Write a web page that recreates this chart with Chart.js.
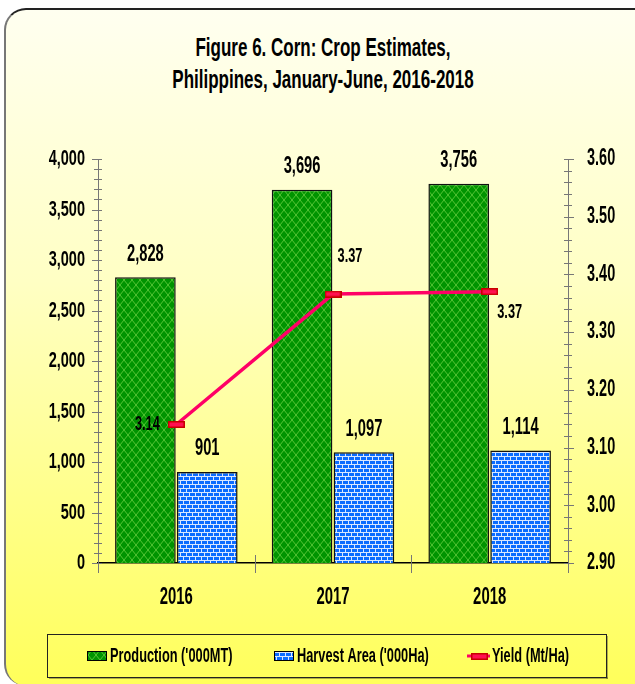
<!DOCTYPE html>
<html lang="en">
  <head>
    <meta charset="UTF-8" />
    <title>Corn Crop Estimates</title>
    <script src="https://cdn.jsdelivr.net/npm/chart.js"></script>
    <style>
      * { margin: 0; padding: 0; box-sizing: border-box; }
      html, body { width: 635px; height: 684px; overflow: hidden; background: #ffffff; }
      .frame {
        position: absolute;
        left: 4px;
        top: 8px;
        width: 660px;
        height: 678px;
        border-top: 2px solid #222;
        border-left: 2px solid #777;
        border-radius: 22px 0 0 22px;
        background: linear-gradient(#fffff0 0%, #ffffc4 40%, #ffff5a 100%);
      }
      .title {
        position: absolute;
        left: 0;
        width: 646px;
        top: 31px;
        text-align: center;
        font-family: "Liberation Sans", Arial, sans-serif;
        font-weight: bold;
        font-size: 25px;
        line-height: 32px;
        color: #000;
        white-space: nowrap;
        transform: scaleX(0.68);
        transform-origin: 323px 0;
      }
      canvas { position: absolute; left: 0; top: 0; }
    </style>
  </head>
  <body>
    <div class="frame"></div>
    <div class="title">Figure 6. Corn: Crop Estimates,<br />Philippines, January-June, 2016-2018</div>
    <canvas id="chart" width="635" height="684"></canvas>

    <script>
      // data
      const categories = ["2016", "2017", "2018"];
      const production = [2828, 3696, 3756];
      const harvestArea = [901, 1097, 1114];
      const yieldValues = [3.14, 3.366, 3.37];
      const leftAxis = { min: 0, max: 4000, step: 500 };
      const rightAxis = { min: 2.9, max: 3.6, step: 0.1 };
      const seriesNames = ["Production ('000MT)", "Harvest Area ('000Ha)", "Yield (Mt/Ha)"];

      const FONT = "'Liberation Sans', Arial, sans-serif";
      const fmtLeft = (v) => v.toLocaleString("en-US");
      const fmtRight = (v) => v.toFixed(2);

      // narrow, tall bold text like the original (Arial Narrow squeezed)
      function drawText(c, text, x, y, size, sx, align) {
        c.save();
        c.font = "bold " + size + "px " + FONT;
        c.fillStyle = "#000";
        c.textAlign = align || "center";
        c.textBaseline = "middle";
        c.translate(x, y);
        c.scale(sx, 1);
        c.fillText(text, 0, 0);
        c.restore();
      }

      function tile(w, h, draw) {
        const c = document.createElement("canvas");
        c.width = w;
        c.height = h;
        draw(c.getContext("2d"));
        return c;
      }

      const diamondTile = tile(8, 10, (g) => {
        g.fillStyle = "#009400";
        g.fillRect(0, 0, 8, 10);
        g.strokeStyle = "#55c435";
        g.lineWidth = 1;
        g.beginPath();
        g.moveTo(4, 0); g.lineTo(8, 5); g.lineTo(4, 10); g.lineTo(0, 5); g.closePath();
        g.stroke();
      });
      const brickTile = tile(12, 8, (g) => {
        g.fillStyle = "#0a6cff";
        g.fillRect(0, 0, 12, 8);
        g.fillStyle = "#d8e8ff";
        g.fillRect(0, 0, 12, 1);
        g.fillRect(0, 4, 12, 1);
        g.fillRect(0, 0, 1, 4);
        g.fillRect(6, 0, 1, 4);
        g.fillRect(3, 4, 1, 4);
        g.fillRect(9, 4, 1, 4);
      });

      const ctx = document.getElementById("chart").getContext("2d");
      const greenFill = ctx.createPattern(diamondTile, "repeat");
      const blueFill = ctx.createPattern(brickTile, "repeat");

      const yieldMarker = tile(17, 7, (g) => {
        g.fillStyle = "#ff1050";
        g.fillRect(0, 0, 17, 7);
        g.strokeStyle = "#c80000";
        g.lineWidth = 1.5;
        g.strokeRect(0.75, 0.75, 15.5, 5.5);
      });

      // tick marks crossing the axes, minor every 100 / 0.02, plus tick labels
      const axisTicks = {
        id: "axisTicks",
        afterDraw(chart) {
          const c = chart.ctx;
          const { y, y1, x } = chart.scales;
          c.save();
          c.lineWidth = 1;
          c.strokeStyle = "#777";
          for (let v = leftAxis.min; v <= leftAxis.max; v += 100) {
            const py = Math.round(y.getPixelForValue(v)) + 0.5;
            const major = v % leftAxis.step === 0;
            c.beginPath();
            c.moveTo(y.right - (major ? 6 : 4), py);
            c.lineTo(y.right + 4, py);
            c.stroke();
          }
          for (let i = 0; i <= 35; i++) {
            const v = rightAxis.min + i * 0.02;
            const py = Math.round(y1.getPixelForValue(v)) + 0.5;
            const major = i % 5 === 0;
            c.beginPath();
            c.moveTo(y1.left - 4, py);
            c.lineTo(y1.left + (major ? 6 : 4), py);
            c.stroke();
          }
          for (let i = 0; i <= categories.length; i++) {
            const px = Math.round(x.getPixelForValue(i - 0.5)) + 0.5;
            c.beginPath();
            c.moveTo(px, x.top - 8);
            c.lineTo(px, x.top + 10);
            c.stroke();
          }
          c.restore();

          y.ticks.forEach((t) => drawText(c, fmtLeft(t.value), y.right - 13, y.getPixelForValue(t.value), 22, 0.66, "right"));
          y1.ticks.forEach((t) => drawText(c, fmtRight(t.value), y1.left + 19, y1.getPixelForValue(t.value), 23, 0.63, "left"));
          categories.forEach((lab, i) => drawText(c, lab, x.getPixelForValue(i), x.top + 34, 24, 0.62, "center"));
        },
      };

      // value labels
      const yieldLabelOffsets = [
        { dx: -29, dy: 0 },
        { dx: 17, dy: -38 },
        { dx: 20, dy: 21 },
      ];
      const valueLabels = {
        id: "valueLabels",
        afterDatasetsDraw(chart) {
          const c = chart.ctx;
          [0, 1].forEach((d) => {
            chart.getDatasetMeta(d).data.forEach((bar, i) => {
              const v = chart.data.datasets[d].data[i];
              drawText(c, fmtLeft(v), bar.x, bar.y - 23, 23, 0.64, "center");
            });
          });
          chart.getDatasetMeta(2).data.forEach((pt, i) => {
            const v = chart.data.datasets[2].data[i];
            const o = yieldLabelOffsets[i];
            drawText(c, v.toFixed(2), pt.x + o.dx, pt.y + o.dy, 20, 0.64, "center");
          });
        },
      };

      // legend in a framed box at the bottom
      const legendBox = {
        id: "legendBox",
        afterDraw(chart) {
          const c = chart.ctx;
          const top = 634, bottom = 677, left = 47, right = 606, cy = 656;
          c.save();
          c.fillStyle = "rgba(110,110,40,0.55)";
          c.fillRect(left + 2, bottom, right - left, 2);
          c.fillRect(right, top + 2, 2, bottom - top);
          c.strokeStyle = "#222";
          c.lineWidth = 1;
          c.strokeRect(left + 0.5, top + 0.5, right - left, bottom - top);

          const items = [
            { x: 87, fill: greenFill },
            { x: 274, fill: blueFill },
            { x: 467, line: true },
          ];
          items.forEach((it, i) => {
            if (it.line) {
              c.strokeStyle = "#ff0066";
              c.lineWidth = 3;
              c.beginPath();
              c.moveTo(it.x, cy);
              c.lineTo(it.x + 23, cy);
              c.stroke();
              c.drawImage(yieldMarker, it.x + 4, cy - 3);
              drawText(c, seriesNames[i], it.x + 25, cy, 20, 0.64, "left");
            } else {
              c.fillStyle = it.fill;
              c.fillRect(it.x, cy - 5, 20, 10);
              c.strokeStyle = "#000";
              c.lineWidth = 1;
              c.strokeRect(it.x + 0.5, cy - 4.5, 19, 9);
              drawText(c, seriesNames[i], it.x + 23, cy, 20, 0.64, "left");
            }
          });
          c.restore();
        },
      };

      new Chart(ctx, {
        data: {
          labels: categories,
          datasets: [
            {
              type: "bar",
              label: seriesNames[0],
              data: production,
              backgroundColor: greenFill,
              borderColor: "#111",
              borderWidth: 1.5,
              yAxisID: "y",
              barPercentage: 0.98,
              categoryPercentage: 0.79,
              order: 2,
            },
            {
              type: "bar",
              label: seriesNames[1],
              data: harvestArea,
              backgroundColor: blueFill,
              borderColor: "#111",
              borderWidth: 1.5,
              yAxisID: "y",
              barPercentage: 0.98,
              categoryPercentage: 0.79,
              order: 2,
            },
            {
              type: "line",
              label: seriesNames[2],
              data: yieldValues,
              borderColor: "#ff0066",
              backgroundColor: "#ff1050",
              borderWidth: 3.5,
              pointStyle: yieldMarker,
              pointRadius: 8,
              yAxisID: "y1",
              tension: 0,
              order: 1,
            },
          ],
        },
        options: {
          responsive: false,
          animation: false,
          layout: { padding: { top: 159, left: 0, right: 0, bottom: 57 } },
          plugins: {
            title: { display: false },
            legend: { display: false },
            tooltip: { enabled: false },
          },
          scales: {
            x: {
              grid: { display: false },
              border: { color: "#000", width: 1.5 },
              ticks: { display: false },
              afterFit(s) { s.height = 64; },
            },
            y: {
              position: "left",
              min: leftAxis.min,
              max: leftAxis.max,
              grid: { display: false },
              border: { color: "#777", width: 1 },
              ticks: { display: false, stepSize: leftAxis.step },
              afterFit(s) { s.width = 98; },
            },
            y1: {
              position: "right",
              min: rightAxis.min,
              max: rightAxis.max,
              grid: { display: false },
              border: { color: "#777", width: 1 },
              ticks: { display: false, stepSize: rightAxis.step },
              afterFit(s) { s.width = 67; },
            },
          },
        },
        plugins: [axisTicks, valueLabels, legendBox],
      });
    </script>
  </body>
</html>
